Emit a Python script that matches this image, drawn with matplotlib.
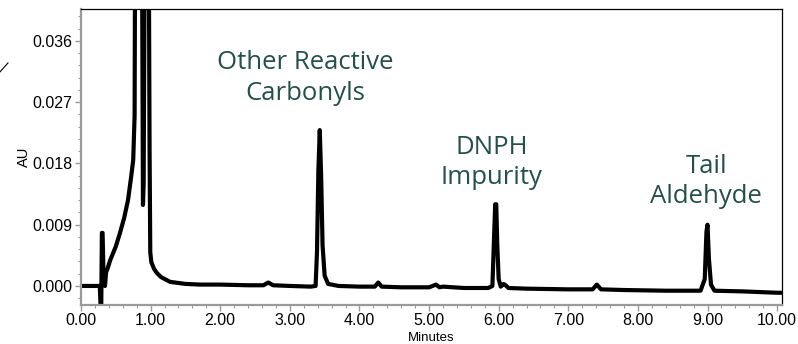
import matplotlib
matplotlib.use("Agg")
import matplotlib.pyplot as plt
from matplotlib.ticker import MultipleLocator, FormatStrFormatter
from matplotlib.lines import Line2D

# Chromatogram trace (minutes, AU)
time_min = [0.00, 0.10, 0.20, 0.27, 0.285, 0.29, 0.30, 0.31, 0.325, 0.345, 0.36, 0.38,
            0.42, 0.50, 0.56, 0.62, 0.675, 0.72, 0.75, 0.77, 0.78, 0.80, 0.84, 0.88,
            0.89, 0.90, 0.92, 0.95, 0.97, 0.985, 0.995, 1.01, 1.05, 1.09, 1.15, 1.28,
            1.50, 1.71, 2.00, 2.40, 2.62, 2.69, 2.76, 3.00, 3.30, 3.37, 3.39, 3.41,
            3.43, 3.45, 3.47, 3.50, 3.55, 3.70, 4.00, 4.22, 4.27, 4.32, 4.60, 5.00,
            5.10, 5.15, 5.20, 5.50, 5.85, 5.91, 5.93, 5.95, 5.965, 5.98, 6.00, 6.03,
            6.07, 6.10, 6.14, 6.40, 7.00, 7.35, 7.41, 7.47, 7.80, 8.40, 8.90, 8.96,
            8.985, 9.00, 9.02, 9.05, 9.10, 9.50, 10.00, 10.07]
au = [0.0000, 0.0000, 0.0000, 0.0000, -0.0040, -0.0040, 0.0078, 0.0078, 0.0010, 0.0000,
      0.0020, 0.0025, 0.0038, 0.0058, 0.0078, 0.0100, 0.0126, 0.0160, 0.0185, 0.0250,
      0.0600, 0.0900, 0.0900, 0.0400, 0.0119, 0.0150, 0.0600, 0.0900, 0.0600, 0.0200,
      0.0050, 0.0035, 0.0025, 0.0019, 0.0013, 0.0006, 0.0003, 0.0002, 0.0002, 0.0001,
      0.0001, 0.0005, 0.0001, 0.0000, -0.0001, 0.0000, 0.0050, 0.0170, 0.0229, 0.0160,
      0.0060, 0.0015, 0.0003, 0.0000, -0.0001, -0.0001, 0.0005, -0.0001, -0.0002, -0.0002,
      0.0002, -0.0002, -0.0001, -0.0003, -0.0003, 0.0000, 0.0060, 0.0120, 0.0120, 0.0060,
      0.0010, -0.0001, 0.0003, 0.0001, -0.0003, -0.0004, -0.0005, -0.0005, 0.0002, -0.0005,
      -0.0006, -0.0007, -0.0007, 0.0010, 0.0080, 0.0090, 0.0040, 0.0002, -0.0007, -0.0008,
      -0.0010, -0.0010]

x_ticks = [0, 1, 2, 3, 4, 5, 6, 7, 8, 9, 10]
y_ticks = [0.000, 0.009, 0.018, 0.027, 0.036]

labels = ["Other Reactive\nCarbonyls", "DNPH\nImpurity", "Tail\nAldehyde"]
label_x = [3.22, 5.90, 8.98]
label_y = [0.0274, 0.0150, 0.0122]

teal = "#24504a"
grey = "#9a9a9a"

fig = plt.figure(figsize=(7.98, 3.44), dpi=100)
ax = fig.add_axes([81/798, 39/344, (782-81)/798, (305-9)/344])

ax.plot(time_min, au, color="black", lw=3.0, solid_joinstyle="round", solid_capstyle="round")

ax.set_xlim(0, 10.07)
ax.set_ylim(-0.0028, 0.0407)
ax.set_xticks(x_ticks)
ax.set_yticks(y_ticks)
ax.xaxis.set_minor_locator(MultipleLocator(0.2))
ax.yaxis.set_minor_locator(MultipleLocator(0.0018))
ax.xaxis.set_major_formatter(FormatStrFormatter("%.2f"))
ax.yaxis.set_major_formatter(FormatStrFormatter("%.3f"))

for s in ["left", "bottom"]:
    ax.spines[s].set_color(grey)
    ax.spines[s].set_linewidth(1.6)
for s in ["top", "right"]:
    ax.spines[s].set_color("black")
    ax.spines[s].set_linewidth(0.9)

ax.tick_params(which="major", direction="out", length=4, width=1.0, color=grey,
               labelsize=11.5, pad=2)
ax.tick_params(which="minor", direction="out", length=2.5, width=0.8, color=grey)
for lab in ax.get_xticklabels() + ax.get_yticklabels():
    lab.set_family("Liberation Sans")

ax.set_xlabel("Minutes", family="Liberation Sans", fontsize=9.5, labelpad=2.5)
ax.set_ylabel("AU", family="Liberation Sans", fontsize=10.5, labelpad=1)

for txt, lx, ly in zip(labels, label_x, label_y):
    ax.text(lx, ly, txt, ha="center", va="baseline", color=teal, family="Open Sans",
            fontsize=18.5, linespacing=1.28)

fig.add_artist(Line2D([0.0, 0.010], [0.791, 0.817], transform=fig.transFigure,
                      color="black", lw=0.8))

fig.savefig("out.png", dpi=100)
